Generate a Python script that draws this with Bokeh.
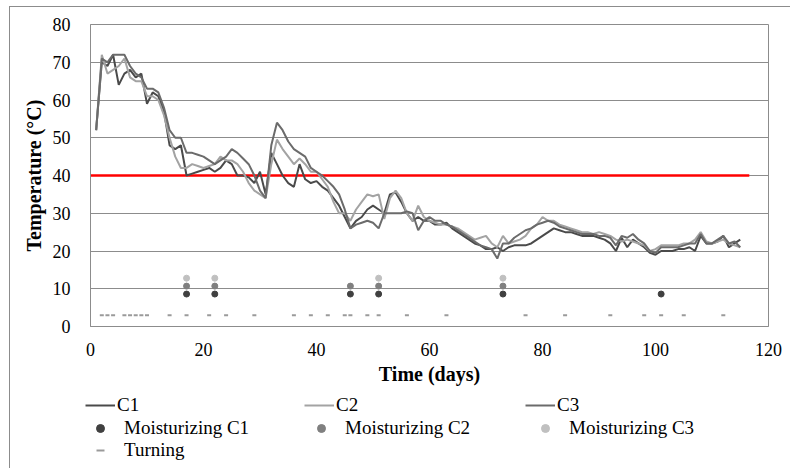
from bokeh.plotting import figure
from bokeh.layouts import column
from bokeh.models import Legend, LegendItem, Range1d, FixedTicker
from bokeh.embed import file_html
from bokeh.resources import INLINE

days = list(range(1, 116))
c1 = [52, 70, 69, 72, 64, 67, 68, 66, 67, 59,
      62, 61, 57, 48, 47, 48, 40, 40.5, 41, 41.5,
      42, 41, 42, 44, 43, 40, 40, 39.5, 38, 41,
      35, 46, 43, 40, 38, 37, 43, 39, 38, 38.5,
      37, 36, 34, 32, 29, 26, 28, 29, 31, 32,
      31, 30, 35, 35.5, 33, 30, 28, 29, 28, 28,
      27, 27, 27.5, 26, 25, 24, 23, 22, 21.5, 20.5,
      20.5, 21, 20, 21, 21.5, 21.5, 21.5, 22, 23, 24,
      25, 26, 25.5, 25, 25, 24.5, 24, 24, 24, 23.5,
      23, 22, 20, 23.5, 21, 23, 22, 21, 19.5, 19,
      20, 20, 20, 20.5, 20.5, 21, 20, 24, 22, 22,
      22.5, 24, 21, 22, 23]
c2 = [52, 72, 67, 68, 69, 71, 66, 65, 65, 61,
      61, 60, 56, 50, 45, 42, 42, 43, 42.5, 42,
      42.5, 43, 45, 44, 44, 43, 41, 38, 36, 35,
      34, 43, 49.5, 47, 45, 43, 44.5, 43, 41, 41,
      39, 37, 33, 30, 30, 28, 31, 33, 35, 34.5,
      35, 28.5, 34, 36, 34, 30, 28, 32, 29, 28,
      27.5, 27, 27, 26.5, 26, 25, 24, 23, 23.5, 24,
      22, 21, 24, 22, 22.5, 23, 24, 26, 27, 29,
      28, 28, 27, 26.5, 26, 25.5, 25, 25, 24.5, 25,
      24.5, 24, 23, 22.5, 23, 22.5, 22, 21.5, 20, 20.5,
      21.5, 21.5, 21.5, 21.5, 22, 22, 23, 25, 22.5, 22,
      22.5, 23, 22, 21.5, 21]
c3 = [52, 71, 70, 72, 72, 72, 69, 67, 66, 63,
      63, 62, 58, 52, 50, 50, 46, 46, 45.5, 45,
      44, 43, 44, 45, 47, 46, 44.5, 43, 40, 36,
      34, 48, 54, 52, 49, 47, 46, 45, 42, 41,
      40, 38.5, 37, 35, 31, 26, 27, 27.5, 28, 27.5,
      26, 30, 30, 30, 30, 30.5, 30, 25.5, 28, 29,
      28, 28, 27, 26.5, 25.5, 24.5, 23.5, 22.5, 21.5, 21,
      20.5, 18, 22, 22, 23.5, 24.5, 25.5, 26, 27, 27.5,
      28, 27.5, 26.5, 26, 25.5, 25, 24.5, 24.5, 24.5, 24,
      24, 23.5, 21.5, 24, 23.5, 24.5, 23, 22, 20, 19.5,
      21, 21, 21, 21, 21.5, 22, 22, 24.5, 22, 22,
      23, 24, 22, 22.5, 21]

moist_c1_days = [17, 22, 46, 51, 73, 101]
moist_c1_y = [8.6, 8.6, 8.6, 8.6, 8.6, 8.6]
moist_c2_days = [17, 22, 46, 51, 73]
moist_c2_y = [10.7, 10.7, 10.7, 10.7, 10.7]
moist_c3_days = [17, 22, 51, 73]
moist_c3_y = [12.8, 12.8, 12.8, 12.8]
turning_days = [2, 3, 4, 6, 7, 8, 9, 10, 14, 17, 21, 24, 29, 36, 39, 42, 45, 46,
                49, 51, 56, 63, 77, 84, 92, 98, 101, 105, 112]
turning_y = [3] * len(turning_days)
threshold_x = [-1.2, 116.6]
threshold_y = [40, 40]

x_ticks = [0, 20, 40, 60, 80, 100, 120]
y_ticks = [0, 10, 20, 30, 40, 50, 60, 70, 80]

# off-screen sample point for the legend-strip renderers (never visible)
legend_dummy_x = [-50]
legend_dummy_y = [-50]

FONT = "Liberation Serif"
GRID = "#8c8c8c"
W = 790
MAIN_H = 390
LEG_H = 78
FRAME_L = 90
FRAME_R = 768

STY = {
    "c1": dict(line_color="#4a4a4a", line_width=2),
    "c2": dict(line_color="#a3a3a3", line_width=2),
    "c3": dict(line_color="#6b6b6b", line_width=2),
    "m1": dict(marker="circle", size=6, fill_color="#404040", line_color="#404040"),
    "m2": dict(marker="circle", size=6, fill_color="#808080", line_color="#808080"),
    "m3": dict(marker="circle", size=6, fill_color="#c0c0c0", line_color="#c0c0c0"),
    "t": dict(marker="dash", size=4, line_color="#9a9a9a", line_width=2),
}

p = figure(width=W, height=MAIN_H, output_backend="svg", toolbar_location=None,
           x_range=Range1d(0, 120), y_range=Range1d(0, 80),
           min_border_left=FRAME_L, min_border_right=W - FRAME_R, min_border_top=24,
           min_border_bottom=MAIN_H - 326)
p.frame_align = False
p.background_fill_color = "white"
p.border_fill_color = None
p.outline_line_color = GRID
p.xgrid.grid_line_color = None
p.ygrid.grid_line_color = GRID
p.ygrid.grid_line_width = 1

p.xaxis.ticker = FixedTicker(ticks=x_ticks)
p.yaxis.ticker = FixedTicker(ticks=y_ticks)
for ax in (p.xaxis[0], p.yaxis[0]):
    ax.major_tick_line_color = None
    ax.minor_tick_line_color = None
    ax.axis_line_color = GRID
    ax.major_label_text_font = FONT
    ax.major_label_text_font_size = "18px"
    ax.major_label_text_color = "black"
    ax.axis_label_text_font = FONT
    ax.axis_label_text_font_size = "20px"
    ax.axis_label_text_font_style = "bold"
    ax.axis_label_text_color = "black"
p.xaxis.axis_label = "Time (days)"
p.yaxis.axis_label = "Temperature (°C)"
p.xaxis.major_label_standoff = 10
p.xaxis.axis_label_standoff = 4
p.yaxis.major_label_standoff = 14
p.yaxis.axis_label_standoff = 5

p.line(threshold_x, threshold_y, line_color="#ff0000", line_width=2.5)
p.line(days, c1, **STY["c1"])
p.line(days, c2, **STY["c2"])
p.line(days, c3, **STY["c3"])
p.scatter(moist_c1_days, moist_c1_y, **STY["m1"])
p.scatter(moist_c2_days, moist_c2_y, **STY["m2"])
p.scatter(moist_c3_days, moist_c3_y, **STY["m3"])
p.scatter(turning_days, turning_y, **STY["t"])

# legend strip: a separate figure so the legend sits below the axis title
lg = figure(width=W, height=LEG_H, output_backend="svg", toolbar_location=None,
            x_range=Range1d(0, 10), y_range=Range1d(0, 10),
            min_border_left=0, min_border_right=0, min_border_top=0,
            min_border_bottom=0, x_axis_location=None, y_axis_location=None)
lg.frame_align = False
lg.grid.visible = False
lg.outline_line_color = None
lg.background_fill_color = None
lg.border_fill_color = None

lr = {
    "c1": lg.line(legend_dummy_x, legend_dummy_y, **STY["c1"]),
    "c2": lg.line(legend_dummy_x, legend_dummy_y, **STY["c2"]),
    "c3": lg.line(legend_dummy_x, legend_dummy_y, **STY["c3"]),
    "m1": lg.scatter(legend_dummy_x, legend_dummy_y, **STY["m1"]),
    "m2": lg.scatter(legend_dummy_x, legend_dummy_y, **STY["m2"]),
    "m3": lg.scatter(legend_dummy_x, legend_dummy_y, **STY["m3"]),
    "t": lg.scatter(legend_dummy_x, legend_dummy_y, **STY["t"]),
}


def add_item(label, key, x0, yc, glyph_w, standoff):
    top = yc - 10 - MAIN_H
    leg = Legend(items=[LegendItem(label=label, renderers=[lr[key]])],
                 location=(x0, LEG_H - top - 20),
                 glyph_width=glyph_w, glyph_height=20, label_height=20,
                 label_standoff=standoff, padding=0, margin=0, spacing=0,
                 border_line_color=None, background_fill_alpha=0,
                 label_text_font=FONT, label_text_font_size="19px",
                 label_text_color="black")
    lg.add_layout(leg)


add_item("C1", "c1", 85, 406, 30, 2)
add_item("C2", "c2", 304, 406, 30, 2)
add_item("C3", "c3", 525, 406, 30, 2)
add_item("Moisturizing C1", "m1", 90, 429, 20, 14)
add_item("Moisturizing C2", "m2", 311, 429, 20, 14)
add_item("Moisturizing C3", "m3", 535, 429, 20, 14)
add_item("Turning", "t", 90, 451, 20, 14)

frame_css = ("linear-gradient(#8c8c8c, #8c8c8c) 9px 6px / 1px calc(100% - 6px) no-repeat, "
             "linear-gradient(#8c8c8c, #8c8c8c) 9px 6px / calc(100% - 9px) 1px no-repeat, "
             "white")
layout = column(p, lg, spacing=0, styles={"background": frame_css})
open("out.html", "w").write(file_html(layout, INLINE))
